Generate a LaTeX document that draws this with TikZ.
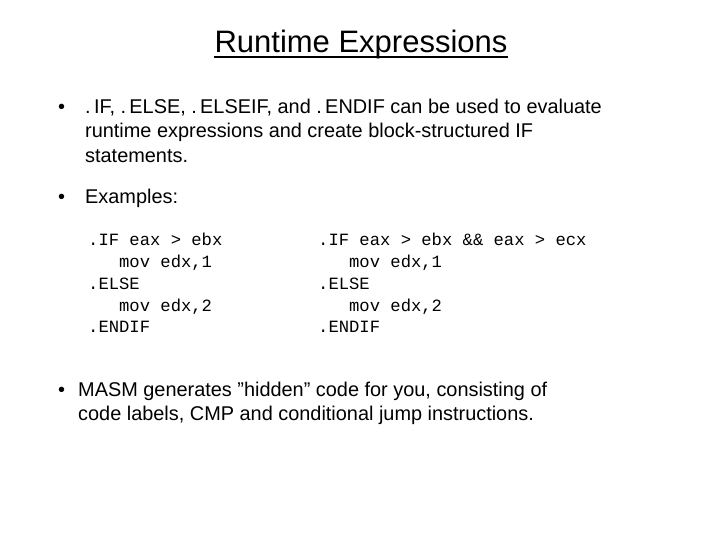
\documentclass[tikz,border=0pt]{standalone}
\usepackage{fontspec}
\setmainfont{Liberation Sans}
\setmonofont{Liberation Mono}
\begin{document}
\begin{tikzpicture}[x=1pt,y=-1pt,
  txt/.style={anchor=base west,inner sep=0pt,font=\fontsize{19.9}{22}\selectfont},
  code/.style={anchor=base west,inner sep=0pt,font=\ttfamily\fontsize{17.2}{18}\selectfont}]
\useasboundingbox (0,0) rectangle (720,540);
\node[anchor=base,inner sep=0pt,font=\fontsize{31}{34}\selectfont] (title) at (361,53) {Runtime Expressions};
\draw[line width=1.2pt] ([yshift=-4pt]title.base west) -- ([yshift=-4pt]title.base east);
\node[txt] (b1) at (58,114) {•};
\node[txt] (l1) at (85,114) {.\,IF, .\,ELSE, .\,ELSEIF, and .\,ENDIF can be used to evaluate};
\node[txt] (l2) at (85,138) {runtime expressions and create block-structured IF};
\node[txt] (l3) at (85,163) {statements.};
\node[txt] (b2) at (58,204) {•};
\node[txt] (l4) at (85,204) {Examples:};
\node[code] (a1) at (88,245) {.IF eax > ebx};
\node[code] (a2) at (88,267) {\ \ \ mov edx,1};
\node[code] (a3) at (88,289) {.ELSE};
\node[code] (a4) at (88,311) {\ \ \ mov edx,2};
\node[code] (a5) at (88,332) {.ENDIF};
\node[code] (c1) at (318,245) {.IF eax > ebx \&\& eax > ecx};
\node[code] (c2) at (318,267) {\ \ \ mov edx,1};
\node[code] (c3) at (318,289) {.ELSE};
\node[code] (c4) at (318,311) {\ \ \ mov edx,2};
\node[code] (c5) at (318,332) {.ENDIF};
\node[txt] (b3) at (58,396) {•};
\node[txt] (l5) at (78,396) {MASM generates \symbol{34}hidden\symbol{34} code for you, consisting of};
\node[txt] (l6) at (78,420) {code labels, CMP and conditional jump instructions.};
\end{tikzpicture}
\end{document}
